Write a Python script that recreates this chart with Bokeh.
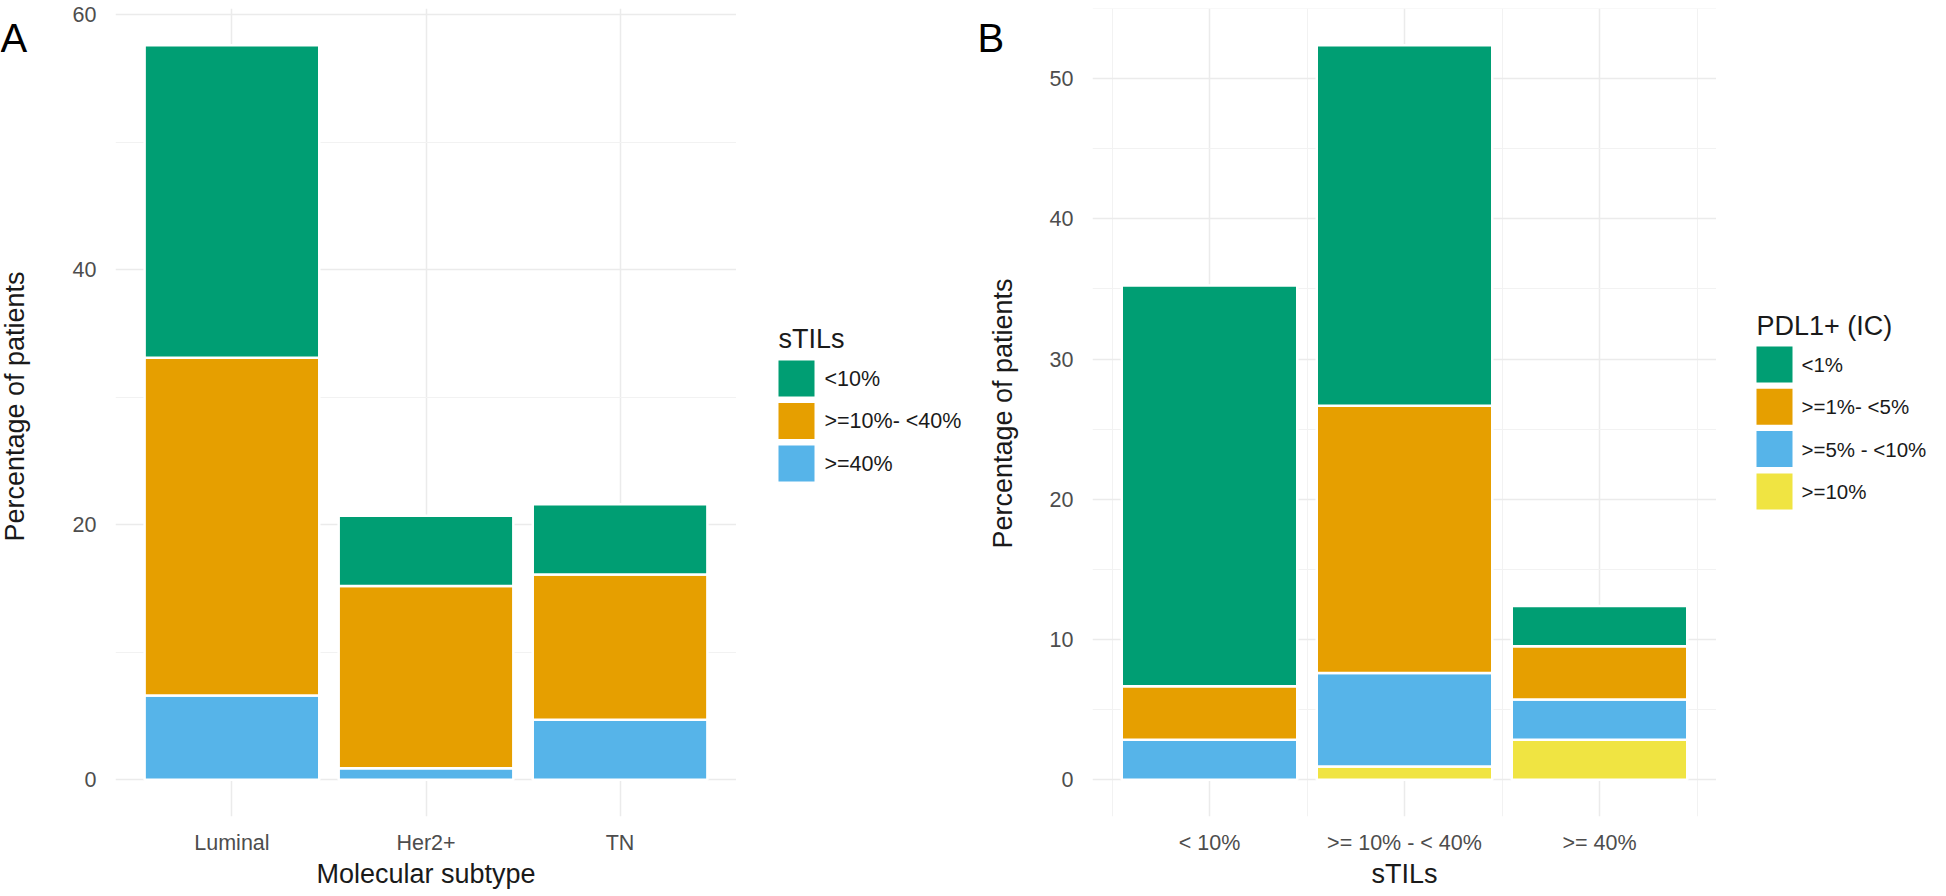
import math
from bokeh.plotting import figure
from bokeh.models import Range1d, FixedTicker
from bokeh.core.properties import value
from bokeh.layouts import row
from bokeh.embed import file_html
from bokeh.resources import INLINE

# ---------------- Panel A data ----------------
a_categories = ["Luminal", "Her2+", "TN"]
a_legend_labels = ["<10%", ">=10%- <40%", ">=40%"]
a_lt10 = [24.5, 5.5, 5.5]        # <10%  (green)
a_10to40 = [26.5, 14.3, 11.4]    # >=10%- <40% (orange)
a_ge40 = [6.6, 0.9, 4.7]         # >=40% (blue)
a_yticks = [0, 20, 40, 60]
a_yminor = [10, 30, 50]

# ---------------- Panel B data ----------------
b_categories = ["< 10%", ">= 10% - < 40%", ">= 40%"]
b_legend_labels = ["<1%", ">=1%- <5%", ">=5% - <10%", ">=10%"]
b_lt1 = [28.57, 25.71, 2.86]     # <1% (green)
b_1to5 = [3.81, 19.05, 3.81]     # >=1%- <5% (orange)
b_5to10 = [2.86, 6.67, 2.86]     # >=5% - <10% (blue)
b_ge10 = [0.0, 0.95, 2.86]       # >=10% (yellow)
b_yticks = [0, 10, 20, 30, 40, 50]
b_yminor = [5, 15, 25, 35, 45, 55]

Y_TITLE = "Percentage of patients"
GREEN, ORANGE, BLUE, YELLOW = "#009E73", "#E69F00", "#56B4E9", "#F0E442"
FONT = "Liberation Sans"
TOP, FRAME_H, BOTTOM = 8, 808, 64   # identical vertical geometry for every figure


def blank_strip(width):
    """Figure whose frame spans the strip; coordinates are frame pixels (y up)."""
    s = figure(output_backend="svg", toolbar_location=None,
               frame_width=width, frame_height=FRAME_H,
               x_range=Range1d(0, width), y_range=Range1d(0, FRAME_H),
               x_axis_location=None, y_axis_location=None, min_border=0,
               min_border_left=0, min_border_right=0,
               min_border_top=TOP, min_border_bottom=BOTTOM)
    s.outline_line_color = None
    s.grid.visible = False
    return s


def title_strip(letter, width, title_x, title_y):
    """Narrow strip holding the panel letter and the rotated y-axis title."""
    s = blank_strip(width)
    s.text(x=[0], y=[FRAME_H - 29], text=[letter], text_font=value(FONT),
           text_font_size=value("40px"), text_color="black",
           text_baseline="alphabetic", text_align="left")
    s.text(x=[title_x], y=[title_y], text=[Y_TITLE], text_font=value(FONT),
           text_font_size=value("27px"), text_color="#1A1A1A", angle=math.pi / 2,
           text_baseline="middle", text_align="center")
    return s


def legend_strip(width, title, labels, colors, key_x, title_y, first_key_y, pitch,
                 label_gap, label_size):
    """ggplot-like legend: title, colour keys and labels."""
    s = blank_strip(width)
    k = len(labels)
    key_cy = [first_key_y - i * pitch for i in range(k)]
    s.text(x=[key_x], y=[title_y], text=[title], text_font=value(FONT),
           text_font_size=value("27px"), text_color="#1A1A1A",
           text_baseline="middle", text_align="left")
    s.rect(x=[key_x + 18] * k, y=key_cy, width=36, height=36, fill_color=colors,
           line_color=None)
    s.text(x=[key_x + 36 + label_gap] * k, y=key_cy, text=labels,
           text_font=value(FONT), text_font_size=value(label_size),
           text_color="#1A1A1A", text_baseline="middle", text_align="left")
    return s


def make_panel(cats, series_top_first, colors_top_first, x_title, yticks, yminor,
               xminor, left_border, frame_w):
    n = len(cats)
    xs = list(range(1, n + 1))
    totals = [sum(v[i] for v in series_top_first) for i in range(n)]
    ymax = max(totals)
    pad = 0.05 * ymax
    p = figure(output_backend="svg", toolbar_location=None,
               frame_width=frame_w, frame_height=FRAME_H,
               x_range=Range1d(0.4, n + 0.6), y_range=Range1d(-pad, ymax + pad),
               min_border_left=left_border, min_border_right=0,
               min_border_top=TOP, min_border_bottom=BOTTOM)
    p.outline_line_color = None
    p.background_fill_color = "white"
    p.border_fill_color = "white"

    # stacked bars, bottom-up
    names = ["s%d" % i for i in range(len(series_top_first))][::-1]
    data = {"x": xs}
    for nm, vals in zip(names, series_top_first[::-1]):
        data[nm] = vals
    p.vbar_stack(names, x="x", width=0.9, source=data,
                 color=colors_top_first[::-1], line_color="white", line_width=2.5)

    # axes
    p.xaxis.ticker = FixedTicker(ticks=xs, minor_ticks=xminor)
    p.xaxis.major_label_overrides = {x: c for x, c in zip(xs, cats)}
    p.yaxis.ticker = FixedTicker(ticks=yticks, minor_ticks=yminor)
    for ax in (p.xaxis[0], p.yaxis[0]):
        ax.axis_line_color = None
        ax.major_tick_line_color = None
        ax.minor_tick_line_color = None
        ax.major_label_text_font = FONT
        ax.major_label_text_font_size = "21.5px"
        ax.major_label_text_color = "#4D4D4D"
        ax.axis_label_text_font = FONT
        ax.axis_label_text_font_size = "27px"
        ax.axis_label_text_font_style = "normal"
        ax.axis_label_text_color = "#1A1A1A"
    p.xaxis.axis_label = x_title
    p.xaxis.major_label_standoff = 8
    p.xaxis.axis_label_standoff = 1
    p.yaxis.major_label_standoff = 13

    # grid (ggplot minimal look)
    p.xgrid.grid_line_color = "#EBEBEB"
    p.xgrid.grid_line_width = 1.5
    if xminor:
        p.xgrid.minor_grid_line_color = "#F2F2F2"
        p.xgrid.minor_grid_line_width = 1
    p.ygrid.grid_line_color = "#EBEBEB"
    p.ygrid.grid_line_width = 1.5
    p.ygrid.minor_grid_line_color = "#F2F2F2"
    p.ygrid.minor_grid_line_width = 1
    return p


# strip coordinates: y = 824 - (page y), x measured from each strip's left edge
la = title_strip("A", 34, 14, 410)
pa = make_panel(a_categories, [a_lt10, a_10to40, a_ge40], [GREEN, ORANGE, BLUE],
                "Molecular subtype", a_yticks, a_yminor, [], 81, 621)
ga = legend_strip(241, "sTILs", a_legend_labels, [GREEN, ORANGE, BLUE],
                  42, 478, 438, 42.5, 10, "21.5px")
lb = title_strip("B", 45, 25, 403)
pb = make_panel(b_categories, [b_lt1, b_1to5, b_5to10, b_ge10],
                [GREEN, ORANGE, BLUE, YELLOW], "sTILs", b_yticks, b_yminor,
                [0.5, 1.5, 2.5, 3.5], 70, 624)
gb = legend_strip(214, "PDL1+ (IC)", b_legend_labels, [GREEN, ORANGE, BLUE, YELLOW],
                  40, 491, 452, 42.3, 9, "20.5px")

layout = row(la, pa, ga, lb, pb, gb)
open("out.html", "w").write(file_html(layout, INLINE))
